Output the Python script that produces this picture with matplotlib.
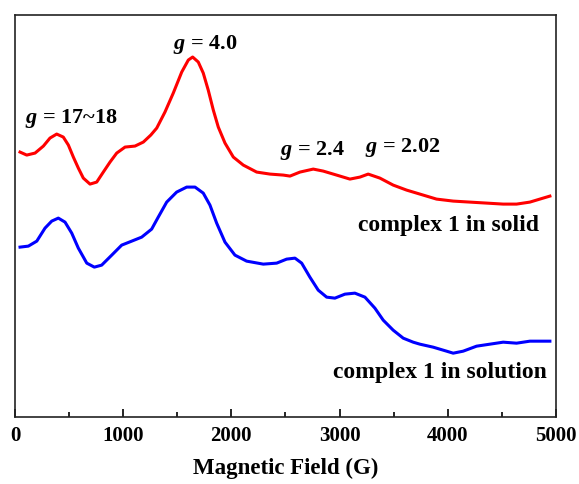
import numpy as np
import matplotlib
matplotlib.use("Agg")
import matplotlib.pyplot as plt
from matplotlib.ticker import MultipleLocator

plt.rcParams['font.family'] = ['Liberation Serif', 'DejaVu Serif']
plt.rcParams['font.weight'] = 'bold'
plt.rcParams['mathtext.fontset'] = 'custom'
plt.rcParams['mathtext.it'] = 'Liberation Serif:italic:bold'
plt.rcParams['mathtext.rm'] = 'Liberation Serif:bold'

# spectra (field in G, intensity in arbitrary units)
solid_field = [46, 108, 185, 262, 323, 385, 446, 493, 539, 585, 631, 693, 755, 816, 878,
               940, 1017, 1109, 1186, 1255, 1310, 1386, 1463, 1541, 1602, 1642, 1694,
               1740, 1786, 1833, 1879, 1941, 2018, 2110, 2234, 2357, 2480, 2542, 2634,
               2757, 2849, 2973, 3096, 3189, 3265, 3373, 3496, 3620, 3743, 3897, 4051,
               4205, 4360, 4513, 4637, 4760, 4883, 4945]
solid = [265, 262, 264, 271, 279, 283, 280, 272, 260, 249, 239, 233, 235, 245, 255,
         264, 270, 271, 275, 282, 289, 305, 324, 345, 357, 360, 355,
         344, 327, 307, 290, 274, 260, 252, 245, 243, 242, 241, 245,
         248, 246, 242, 238, 240, 243, 239, 232, 227, 223, 218, 216,
         215, 214, 213, 213, 215, 219, 221]

solution_field = [46, 123, 201, 277, 339, 400, 462, 524, 585, 663, 733, 801, 894, 986,
                  1079, 1171, 1263, 1324, 1402, 1494, 1587, 1664, 1740, 1802, 1864, 1941,
                  2033, 2141, 2295, 2419, 2511, 2588, 2650, 2726, 2803, 2881, 2957, 3050,
                  3142, 3235, 3327, 3404, 3496, 3589, 3681, 3743, 3866, 3990, 4051, 4143,
                  4267, 4390, 4513, 4637, 4760, 4883, 4945]
solution = [170, 171, 176, 189, 196, 199, 195, 184, 169, 154, 150, 152, 162, 172,
            176, 180, 188, 200, 215, 225, 230, 230, 224, 212, 194, 175,
            162, 156, 153, 154, 158, 159, 154, 140, 127, 120, 119, 123,
            124, 120, 109, 97, 87, 79, 75, 73, 70, 66, 64, 66,
            71, 73, 75, 74, 76, 76, 76]

fig = plt.figure(figsize=(5.79, 4.84), dpi=100)
ax = fig.add_axes([0.026, 0.138, 0.934, 0.831])

ax.plot(solid_field, solid, color='#ff0000', lw=2.2, solid_joinstyle='round')
ax.plot(solution_field, solution, color='#0000ff', lw=2.2, solid_joinstyle='round')

ax.set_xlim(0, 5000)
ax.set_ylim(0, 402)
ax.set_yticks([])
ax.xaxis.set_major_locator(MultipleLocator(1000))
ax.xaxis.set_minor_locator(MultipleLocator(500))
ax.tick_params(axis='x', which='major', direction='in', length=6, width=1.2, labelsize=15, pad=6)
ax.tick_params(axis='x', which='minor', direction='in', length=3.5, width=1.2)
for s in ax.spines.values():
    s.set_linewidth(1.2)
    s.set_color('#222222')

ax.set_xlabel('Magnetic Field (G)', fontsize=16.5, fontweight='bold', labelpad=9)

ax.text(92, 299, '$g$ = 17~18', fontsize=16, ha='left', va='center')
ax.text(1756, 373, '$g$ = 4.0', fontsize=16, ha='center', va='center')
ax.text(2449, 267, '$g$ = 2.4', fontsize=16, ha='left', va='center')
ax.text(3235, 270, '$g$ = 2.02', fontsize=16, ha='left', va='center')
ax.text(4840, 192, 'complex 1 in solid', fontsize=17, ha='right', va='center')
ax.text(4920, 45, 'complex 1 in solution', fontsize=17, ha='right', va='center')

fig.savefig('out.png', dpi=100)
